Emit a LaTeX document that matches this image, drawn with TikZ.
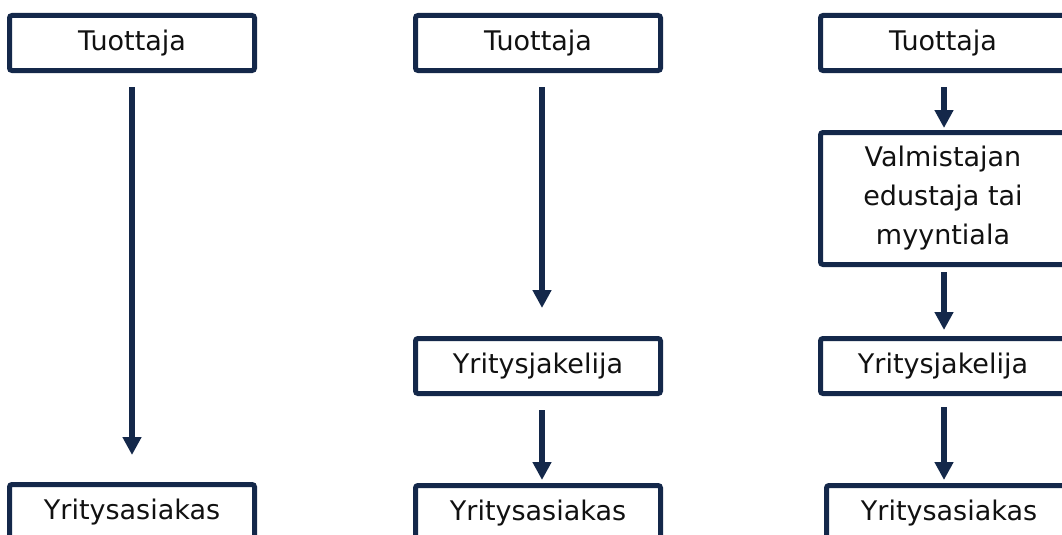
\documentclass[tikz,border=0pt]{standalone}
\usepackage{fontspec}
\setmainfont{DejaVu Sans}
\usetikzlibrary{arrows.meta}
\definecolor{navy}{HTML}{14284A}
\definecolor{ink}{HTML}{111111}
\tikzset{
  box/.style={draw=navy, line width=5pt, fill=white, rounded corners=2.5pt,
    minimum width=245pt, minimum height=55pt, inner sep=0pt, outer sep=0pt,
    text=ink, font=\fontsize{27}{39}\selectfont, align=center},
  tallbox/.style={box, minimum height=132pt},
  flow/.style={draw=navy, line width=6pt,
    -{Triangle[length=18pt, width=18pt]}}
}
\begin{document}
\begin{tikzpicture}[x=1pt, y=-1pt]
\useasboundingbox (0,0) rectangle (1062,535);
\clip (0,0) rectangle (1062,535);

% left chain: producer straight to business customer
\node[box] (t1) at (132,43) {Tuottaja};
\node[box] (ya1) at (132,512) {Yritysasiakas};

% middle chain: via a business distributor
\node[box] (t2) at (538,43) {Tuottaja};
\node[box] (yj2) at (538,366) {Yritysjakelija};
\node[box] (ya2) at (538,513) {Yritysasiakas};

% right chain: via agent or sales branch, then distributor
\node[box] (t3) at (943,43) {Tuottaja};
\node[tallbox] (v3) at (943,198.5) {Valmistajan\\edustaja tai\\myyntiala};
\node[box] (yj3) at (943,366) {Yritysjakelija};
\node[box] (ya3) at (949,513) {Yritysasiakas};

% connectors
\draw[flow, shorten <=16.5pt, shorten >=29.5pt] (t1.south) -- (ya1.north);

\draw[flow, shorten <=16.5pt, shorten >=30.5pt]
  ([xshift=4pt]t2.south) -- ([xshift=4pt]t2.south |- yj2.north);
\draw[flow, shorten <=16.5pt, shorten >=5.5pt]
  ([xshift=4pt]yj2.south) -- ([xshift=4pt]yj2.south |- ya2.north);

\draw[flow, shorten <=16.5pt, shorten >=4.5pt]
  ([xshift=1pt]t3.south) -- ([xshift=1pt]t3.south |- v3.north);
\draw[flow, shorten <=7.5pt, shorten >=8.5pt]
  ([xshift=1pt]v3.south) -- ([xshift=1pt]v3.south |- yj3.north);
\draw[flow, shorten <=13.5pt, shorten >=5.5pt]
  ([xshift=1pt]yj3.south) -- ([xshift=1pt]yj3.south |- ya3.north);
\end{tikzpicture}
\end{document}
